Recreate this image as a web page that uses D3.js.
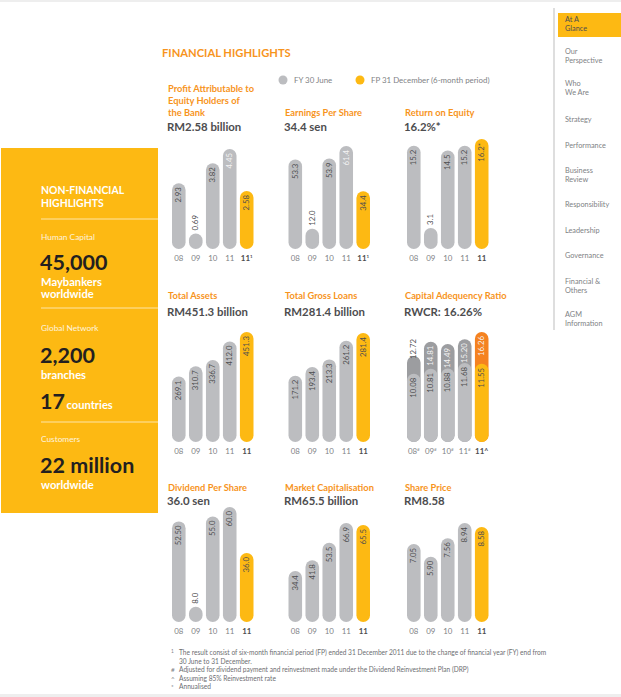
<!DOCTYPE html>
<html>
<head>
<meta charset="utf-8">
<script src="https://cdn.jsdelivr.net/npm/d3@7"></script>
<style>
  body { margin: 0; background: #eeeeee; }
  svg { display: block; font-family: Lato, "Open Sans", sans-serif; }
</style>
</head>
<body>
<svg id="page" width="621" height="697"></svg>
<script>
// ---- data ----
const years = ["08", "09", "10", "11", "11"];
const profit = [2.93, 0.69, 3.82, 4.45, 2.58];
const eps = [53.3, 12.0, 53.9, 61.4, 34.4];
const roe = [15.2, 3.1, 14.5, 15.2, 16.2];
const assets = [269.1, 310.7, 336.7, 412.0, 451.3];
const loans = [171.2, 193.4, 213.3, 261.2, 281.4];
const rwcr = [12.72, 14.81, 14.49, 15.20, 16.26];
const coreCapital = [10.08, 10.81, 10.88, 11.68, 11.55];
const dps = [52.50, 8.0, 55.0, 60.0, 36.0];
const dpsLabels = ["52.50", "8.0", "55.0", "60.0", "36.0"];
const marketCap = [34.4, 41.8, 53.5, 66.9, 65.5];
const sharePrice = [7.05, 5.90, 7.56, 8.94, 8.58];

const navItems = [["At A", "Glance"], ["Our", "Perspective"], ["Who", "We Are"], ["Strategy"], ["Performance"],
  ["Business", "Review"], ["Responsibility"], ["Leadership"], ["Governance"], ["Financial &", "Others"], ["AGM", "Information"]];

const footnotes = [
  ["1", "The result consist of six-month financial period (FP) ended 31 December 2011 due to the change of financial year (FY) end from"],
  ["", "30 June to 31 December."],
  ["#", "Adjusted for dividend payment and reinvestment made under the Dividend Reinvestment Plan (DRP)"],
  ["^", "Assuming 85% Reinvestment rate"],
  ["*", "Annualised"]
];

// colours
const grey = "#bcbdc0", darkGrey = "#9c9da0", yellow = "#fdb913", orange = "#f58220";
const titleOrange = "#f7941d", textDark = "#4d4d4f", textGrey = "#808285";

const svg = d3.select("#page");
svg.append("rect").attr("x", 0).attr("y", 2).attr("width", 621).attr("height", 692).attr("fill", "#fff");

// ---- left panel ----
const lp = svg.append("g");
lp.append("rect").attr("x", 1).attr("y", 148).attr("width", 157).attr("height", 365).attr("fill", yellow);
const lpText = (txt, x, y, size, weight, fill, op) => lp.append("text").attr("x", x).attr("y", y)
  .attr("font-size", size).attr("font-weight", weight).attr("fill", fill).attr("opacity", op || 1).text(txt);
lpText("NON-FINANCIAL", 41, 194, 10.4, 700, "#fff");
lpText("HIGHLIGHTS", 41, 207, 10.4, 700, "#fff");
[219, 308, 422].forEach(y => lp.append("line").attr("x1", 41).attr("x2", 158).attr("y1", y).attr("y2", y)
  .attr("stroke", "#fff").attr("stroke-width", 0.8).attr("opacity", 0.8));
lpText("Human Capital", 41, 240, 8.3, 400, "#fff", 0.85);
lpText("45,000", 40, 270, 21.5, 700, "#231f20");
lpText("Maybankers", 41, 286, 11.2, 700, "#fff");
lpText("worldwide", 41, 298, 11.2, 700, "#fff");
lpText("Global Network", 41, 331, 8.3, 400, "#fff", 0.85);
lpText("2,200", 40, 363, 21.5, 700, "#231f20");
lpText("branches", 41, 379, 11.2, 700, "#fff");
const seventeen = lpText("17", 40, 409, 21.5, 700, "#231f20");
lpText("countries", 40 + seventeen.node().getComputedTextLength() + 1.5, 409, 11.2, 700, "#fff");
lpText("Customers", 41, 442, 8.3, 400, "#fff", 0.85);
lpText("22 million", 40, 473, 21.5, 700, "#231f20");
lpText("worldwide", 41, 489, 11.2, 700, "#fff");

// ---- right navigation ----
const nav = svg.append("g");
nav.append("line").attr("x1", 554).attr("x2", 554).attr("y1", 8).attr("y2", 330).attr("stroke", "#c8c8c8").attr("stroke-width", 1.2);
nav.append("rect").attr("x", 558).attr("y", 13).attr("width", 63).attr("height", 24).attr("fill", yellow);
const navY = [22, 54, 86, 122, 148, 173, 207, 233, 258, 284, 317];
navItems.forEach((lines, i) => {
  lines.forEach((l, j) => nav.append("text").attr("x", 565).attr("y", navY[i] + j * 9)
    .attr("font-size", 7.3).attr("fill", i === 0 ? "#4d4d4f" : textGrey).text(l));
});

// ---- heading + legend ----
svg.append("text").attr("x", 162).attr("y", 57).attr("font-size", 11.2).attr("font-weight", 700)
  .attr("fill", titleOrange).text("FINANCIAL HIGHLIGHTS");
const legend = [["FY 30 June", grey, 283], ["FP 31 December (6-month period)", yellow, 360]];
legend.forEach(([t, c, x]) => {
  svg.append("circle").attr("cx", x).attr("cy", 80).attr("r", 4.5).attr("fill", c);
  svg.append("text").attr("x", x + 11).attr("y", 83).attr("font-size", 7.9).attr("fill", textGrey).text(t);
});

// ---- bar charts ----
const colX = [168, 285, 405];
const barX = [172, 288.5, 407];
const rows = [
  { title: 116, sub: 131, base: 249 },
  { title: 299, sub: 316, base: 442 },
  { title: 491, sub: 505, base: 622 }
];

function pill(g, x, w, top, base, fill) {
  g.append("rect").attr("x", x).attr("y", top).attr("width", w).attr("height", base - top)
    .attr("rx", w / 2).attr("ry", w / 2).attr("fill", fill);
}

function vLabel(g, cx, y, txt, anchor, fill) {
  g.append("text").attr("transform", `translate(${cx + 2.7},${y}) rotate(-90)`)
    .attr("text-anchor", anchor).attr("font-size", 7.8).attr("fill", fill).text(txt);
}

function drawChart(cfg) {
  const row = rows[cfg.row];
  const g = svg.append("g");
  const tx = colX[cfg.col];
  const titleLines = cfg.title;
  titleLines.forEach((t, i) => g.append("text").attr("x", tx).attr("y", row.title - (titleLines.length - 1 - i) * 12)
    .attr("font-size", 9.3).attr("font-weight", 700).attr("fill", titleOrange).text(t));
  g.append("text").attr("x", tx - 1).attr("y", row.sub).attr("font-size", 11.4).attr("font-weight", 700)
    .attr("fill", textDark).text(cfg.sub);

  const x = d3.scaleBand().domain(d3.range(years.length))
    .range([barX[cfg.col], barX[cfg.col] + 81.5]).paddingInner(0.2).paddingOuter(0);
  const y = d3.scaleLinear().domain([0, cfg.max]).range([row.base, row.base - cfg.maxPx]);
  const w = x.bandwidth();
  const fmt = cfg.fmt;

  cfg.values.forEach((v, i) => {
    const cx = x(i) + w / 2;
    const top = y(v);
    pill(g, x(i), w, top, row.base, i === 4 ? yellow : grey);
    const txt = cfg.labels ? cfg.labels[i] : fmt(v) + (i === 4 && cfg.lastMark ? cfg.lastMark : "");
    if (row.base - top < 30) vLabel(g, cx, top - 3, txt, "start", textDark);
    else vLabel(g, cx, top + 4, txt, "end", (cfg.light || []).includes(i) ? "#f4f4f4" : textDark);
  });

  years.forEach((yr, i) => {
    const t = g.append("text").attr("x", x(i) + w / 2).attr("y", row.base + 12).attr("text-anchor", "middle")
      .attr("font-size", 7.9).attr("fill", i === 4 ? textDark : textGrey).attr("font-weight", i === 4 ? 700 : 400).text(yr);
    const mark = cfg.yearMarks ? cfg.yearMarks[i] : "";
    if (mark) t.append("tspan").attr("font-size", 4.5).attr("dy", -3).text(mark);
  });
}

drawChart({ row: 0, col: 0, title: ["Profit Attributable to", "Equity Holders of", "the Bank"], sub: "RM2.58 billion",
  values: profit, max: 4.45, maxPx: 100, fmt: d3.format(".2f"), light: [3], yearMarks: ["", "", "", "", "1"] });
drawChart({ row: 0, col: 1, title: ["Earnings Per Share"], sub: "34.4 sen",
  values: eps, max: 61.4, maxPx: 103, fmt: d3.format(".1f"), light: [3], yearMarks: ["", "", "", "", "1"] });
drawChart({ row: 0, col: 2, title: ["Return on Equity"], sub: "16.2%*",
  values: roe, max: 16.2, maxPx: 110, fmt: d3.format(".1f"), lastMark: "*" });

drawChart({ row: 1, col: 0, title: ["Total Assets"], sub: "RM451.3 billion",
  values: assets, max: 451.3, maxPx: 110, fmt: d3.format(".1f") });
drawChart({ row: 1, col: 1, title: ["Total Gross Loans"], sub: "RM281.4 billion",
  values: loans, max: 281.4, maxPx: 109, fmt: d3.format(".1f") });

// capital adequency: darker full RWCR bar with core capital pill over it
(function () {
  const row = rows[1];
  const g = svg.append("g");
  const tx = colX[2];
  g.append("text").attr("x", tx).attr("y", row.title).attr("font-size", 9.3).attr("font-weight", 700)
    .attr("fill", titleOrange).text("Capital Adequency Ratio");
  g.append("text").attr("x", tx - 1).attr("y", row.sub).attr("font-size", 11.4).attr("font-weight", 700)
    .attr("fill", textDark).text("RWCR: 16.26%");
  const x = d3.scaleBand().domain(d3.range(years.length)).range([barX[2], barX[2] + 81.5]).paddingInner(0.2);
  const y = d3.scaleLinear().domain([0, 16.26]).range([row.base, row.base - 110]);
  const w = x.bandwidth(), fmt = d3.format(".2f");
  rwcr.forEach((v, i) => {
    pill(g, x(i), w, y(v), row.base, i === 4 ? orange : darkGrey);
    pill(g, x(i), w, y(coreCapital[i]), row.base, i === 4 ? yellow : grey);
  });
  rwcr.forEach((v, i) => {
    const cx = x(i) + w / 2;
    const gap = y(coreCapital[i]) - y(v);
    if (gap < 20) vLabel(g, cx, y(v) + 3, fmt(v), "start", textDark);
    else vLabel(g, cx, y(v) + 4, fmt(v), "end", "#f4f4f4");
    vLabel(g, cx, y(coreCapital[i]) + 4, fmt(coreCapital[i]), "end", textDark);
  });
  const marks = ["#", "#", "#", "#", "^"];
  years.forEach((yr, i) => {
    const t = g.append("text").attr("x", x(i) + w / 2).attr("y", row.base + 12).attr("text-anchor", "middle")
      .attr("font-size", 7.9).attr("fill", i === 4 ? textDark : textGrey).attr("font-weight", i === 4 ? 700 : 400).text(yr);
    t.append("tspan").attr("font-size", i === 4 ? 7 : 4.5).attr("dy", i === 4 ? 0 : -3).text(marks[i]);
  });
})();

drawChart({ row: 2, col: 0, title: ["Dividend Per Share"], sub: "36.0 sen",
  values: dps, labels: dpsLabels, max: 60.0, maxPx: 115, fmt: d3.format(".1f") });
drawChart({ row: 2, col: 1, title: ["Market Capitalisation"], sub: "RM65.5 billion",
  values: marketCap, max: 66.9, maxPx: 99, fmt: d3.format(".1f") });
drawChart({ row: 2, col: 2, title: ["Share Price"], sub: "RM8.58",
  values: sharePrice, max: 8.94, maxPx: 99, fmt: d3.format(".2f") });

// ---- footnotes ----
const fnY = [655, 664, 672, 681, 689];
footnotes.forEach(([m, t], i) => {
  svg.append("text").attr("x", 171).attr("y", fnY[i] - (m === "1" ? 2 : 0)).attr("font-size", m === "1" ? 4.8 : 6.4)
    .attr("fill", textGrey).text(m);
  svg.append("text").attr("x", 179).attr("y", fnY[i]).attr("font-size", 6.6).attr("fill", "#6d6e71").text(t);
});
</script>
</body>
</html>
